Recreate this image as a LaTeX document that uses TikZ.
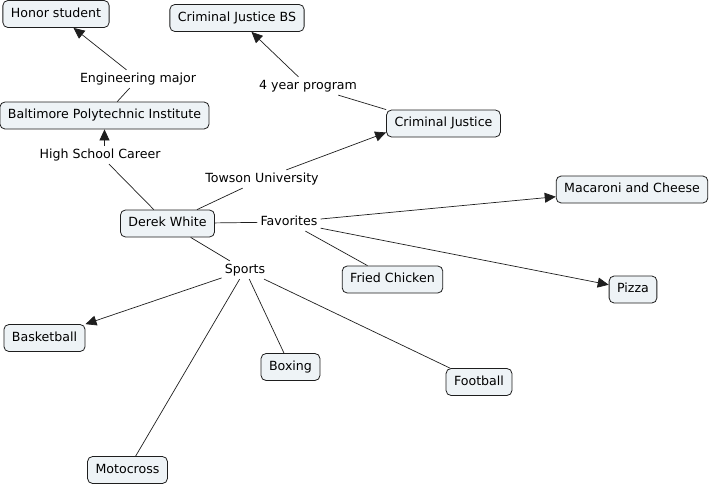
\documentclass[tikz,border=0pt]{standalone}
\usepackage{fontspec}
\setmainfont{DejaVu Sans}
\usetikzlibrary{arrows.meta}
\definecolor{boxfill}{RGB}{238,243,246}
\definecolor{edgecol}{RGB}{30,30,30}
\tikzset{
  concept/.style={draw=edgecol, fill=boxfill, rounded corners=5pt, line width=0.8pt,
    inner xsep=8pt, minimum height=27pt, text height=9.3pt, text depth=2.5pt},
  linklabel/.style={inner sep=3pt, text height=9.3pt, text depth=2.5pt},
  conn/.style={draw=edgecol, line width=0.7pt},
  arr/.style={conn, -{Triangle[length=11pt,width=10pt]}},
}
\begin{document}
\begin{tikzpicture}[x=1pt,y=-1pt,font=\fontsize{12.6}{14}\selectfont]
\useasboundingbox (0,0) rectangle (712,487);
% concepts
\node[concept] (honor) at (56,14) {Honor student};
\node[concept] (cjbs) at (237,18) {Criminal Justice BS};
\node[concept] (bpi) at (104.5,115.5) {Baltimore Polytechnic Institute};
\node[concept] (cj) at (443.5,123.5) {Criminal Justice};
\node[concept] (derek) at (167.5,223.5) {Derek White};
\node[concept] (mac) at (632,189.5) {Macaroni and Cheese};
\node[concept] (fried) at (392.5,279.5) {Fried Chicken};
\node[concept] (pizza) at (633,289.5) {Pizza};
\node[concept] (bball) at (44.5,338) {Basketball};
\node[concept] (boxing) at (290.5,367) {Boxing};
\node[concept] (fball) at (479,382) {Football};
\node[concept] (moto) at (127.5,470) {Motocross};
% linking phrases
\node[linklabel] (eng) at (138,79) {Engineering major};
\node[linklabel] (four) at (308,86) {4 year program};
\node[linklabel] (hsc) at (100,155) {High School Career};
\node[linklabel] (tow) at (262,179) {Towson University};
\node[linklabel] (fav) at (289,222) {Favorites};
\node[linklabel] (sports) at (245,270) {Sports};
% connectors
\draw[conn] (bpi) -- (eng);
\draw[arr] (eng) -- (honor);
\draw[conn] (derek) -- (hsc);
\draw[arr] (hsc.north -| bpi.south) -- (bpi.south);
\draw[conn] (derek) -- (tow);
\draw[arr] (tow) -- ([yshift=-9pt]cj.west);
\draw[conn] (cj.north west) -- (four);
\draw[arr] (four) -- (cjbs);
\draw[conn] (derek) -- (fav);
\draw[arr] (fav) -- (mac);
\draw[conn] (fav) -- (fried);
\draw[arr] (fav) -- (pizza);
\draw[conn] (derek) -- (sports);
\draw[arr] (sports) -- (bball);
\draw[conn] (sports) -- (boxing);
\draw[conn] (sports) -- (fball);
\draw[conn] (sports) -- (moto);
\end{tikzpicture}
\end{document}
